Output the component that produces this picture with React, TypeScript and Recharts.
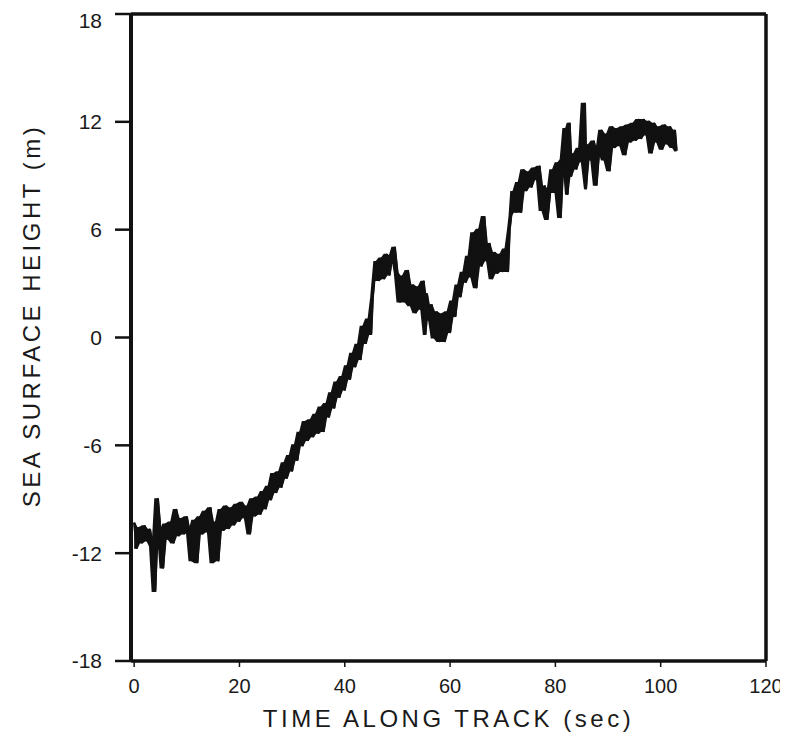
import { ComposedChart, Area, Line, XAxis, YAxis, ReferenceLine } from 'recharts';

// time along track (sec) and sea surface height (m)
const times = [
  0, 0.5, 1, 1.5, 2, 2.5, 3, 3.5, 4, 4.5, 5, 5.5, 6, 6.5, 7, 7.5, 8, 8.5, 9, 9.5,
  10, 10.5, 11, 11.5, 12, 12.5, 13, 13.5, 14, 14.5, 15, 15.5, 16, 16.5, 17, 17.5, 18, 18.5, 19, 19.5,
  20, 20.5, 21, 21.5, 22, 22.5, 23, 23.5, 24, 24.5, 25, 25.5, 26, 26.5, 27, 27.5, 28, 28.5, 29, 29.5,
  30, 30.5, 31, 31.5, 32, 32.5, 33, 33.5, 34, 34.5, 35, 35.5, 36, 36.5, 37, 37.5, 38, 38.5, 39, 39.5,
  40, 40.5, 41, 41.5, 42, 42.5, 43, 43.5, 44, 44.5, 45, 45.3, 45.6, 46, 46.5, 47, 47.5, 48, 48.5, 49, 49.5,
  50, 50.5, 51, 51.5, 52, 52.5, 53, 53.5, 54, 54.5, 55, 55.3, 55.6, 56, 56.5, 57, 57.5, 58, 58.5, 59, 59.5,
  60, 60.5, 61, 61.5, 62, 62.5, 63, 63.5, 64, 64.5, 65, 65.5, 66, 66.5, 67, 67.5, 68, 68.5, 69, 69.5,
  70, 70.5, 71, 71.3, 71.6, 72, 72.5, 73, 73.5, 74, 74.5, 75, 75.5, 76, 76.5, 77, 77.5, 78, 78.5, 79, 79.5,
  80, 80.5, 81, 81.5, 82, 82.3, 82.7, 83, 83.5, 84, 84.5, 85, 85.6, 85.8, 86.3, 86.8, 87.3, 87.8, 88.3, 88.8,
  89.3, 89.8, 90.3, 90.8, 91.3, 91.8, 92.3, 92.8, 93.3, 93.8, 94.3, 94.8, 95.3, 95.8, 96.3, 96.8, 97.3, 97.8,
  98.3, 98.8, 99.3, 99.8, 100.3, 100.8, 101.3, 101.8, 102.3, 102.7, 103,
];

const heights = [
  -10.3, -11.7, -10.6, -11.4, -10.5, -11.3, -10.7, -11.6, -14.1, -9.0, -10.8, -12.8, -10.4, -11.2, -10.3, -11.4, -9.6, -11.0, -10.1, -10.9,
  -10.0, -10.8, -12.4, -10.2, -12.5, -10.0, -10.9, -9.7, -10.8, -9.5, -12.5, -10.3, -12.4, -9.6, -10.7, -9.4, -10.6, -9.5, -10.4, -9.3,
  -10.2, -9.2, -10.0, -9.4, -10.9, -9.0, -9.9, -8.9, -9.8, -8.6, -9.5, -8.3, -9.0, -7.6, -8.6, -7.5, -8.3, -7.0, -7.8, -6.6,
  -7.4, -6.0, -6.8, -5.3, -6.0, -4.7, -5.7, -4.6, -5.5, -4.3, -5.3, -3.9, -5.2, -3.7, -4.4, -3.1, -3.9, -2.5, -3.3, -2.2,
  -2.9, -1.6, -2.3, -0.9, -1.6, -0.4, -1.2, 0.6, -0.3, 1.0, 0.2, 2.2, 3.2, 4.2, 3.2, 4.4, 3.3, 4.6, 3.5, 4.5, 5.0,
  3.6, 2.0, 3.4, 2.0, 3.7, 1.8, 2.9, 1.4, 2.8, 1.6, 3.1, 0.2, 2.4, 1.0, 1.8, 0.0, 1.4, -0.2, 1.3, -0.2, 1.4,
  0.3, 2.0, 1.2, 2.9, 2.3, 3.6, 3.1, 4.5, 3.4, 5.8, 2.8, 6.0, 4.0, 6.7, 4.3, 5.2, 3.3, 4.7, 3.6, 4.6,
  3.7, 4.9, 3.7, 6.0, 6.8, 8.1, 7.0, 8.6, 7.0, 9.3, 8.2, 9.2, 8.4, 9.4, 8.8, 9.5, 7.1, 8.4, 6.6, 8.1, 9.3,
  8.1, 9.7, 6.7, 9.9, 11.6, 8.0, 11.9, 9.0, 10.2, 9.4, 10.5, 9.8, 13.0, 8.3, 10.7, 9.9, 10.9, 8.5, 10.4, 11.5,
  9.9, 11.3, 9.3, 11.7, 10.6, 11.6, 10.7, 11.7, 10.2, 11.8, 10.9, 11.9, 11.0, 12.1, 11.1, 12.1, 11.3, 12.0,
  10.3, 11.9, 10.9, 11.7, 10.5, 11.8, 10.8, 11.7, 10.6, 11.5, 10.4,
];

const xTicks = [0, 20, 40, 60, 80, 100, 120];
const yTicks = [-18, -12, -6, 0, 6, 12, 18];

// band between each reading and the next one, so the noisy trace reads as a solid smear
const data = times.map((t, i) => {
  const next = heights[Math.min(i + 1, heights.length - 1)];
  return { t, h: heights[i], band: [Math.min(heights[i], next), Math.max(heights[i], next)] };
});

const font = '"Liberation Sans", Arial, sans-serif';
const ink = '#111';

export default function App() {
  return (
    <div style={{ width: 780, height: 730, fontFamily: font }}>
      <ComposedChart width={780} height={730} data={data} margin={{ top: 6, right: 22, left: 0, bottom: 0 }}>
        <XAxis
          dataKey="t"
          type="number"
          domain={[-0.6, 120]}
          ticks={xTicks}
          allowDataOverflow
          height={77}
          tickSize={6}
          tickMargin={12}
          axisLine={{ stroke: ink, strokeWidth: 3.5 }}
          tickLine={{ stroke: ink, strokeWidth: 1.5 }}
          tick={{ fill: '#1a1a1a', fontSize: 20, fontFamily: font }}
          label={{
            content: ({ viewBox }: any) => (
              <text
                x={viewBox.x + viewBox.width / 2}
                y={viewBox.y + 66}
                textAnchor="middle"
                fontSize={24}
                letterSpacing={3.5}
                fill="#1a1a1a"
                fontFamily={font}
              >
                TIME ALONG TRACK (sec)
              </text>
            ),
          }}
        />
        <YAxis
          type="number"
          domain={[-18, 18]}
          ticks={yTicks}
          width={123}
          tickSize={16}
          tickMargin={13}
          axisLine={{ stroke: ink, strokeWidth: 4 }}
          tickLine={{ stroke: ink, strokeWidth: 2.5 }}
          tick={{ fill: '#1a1a1a', fontSize: 21, fontFamily: font }}
          label={{
            content: ({ viewBox }: any) => {
              const cx = viewBox.x + 23;
              const cy = viewBox.y + viewBox.height / 2 - 22;
              return (
                <text
                  x={cx}
                  y={cy}
                  transform={`rotate(-90 ${cx} ${cy})`}
                  textAnchor="middle"
                  dominantBaseline="central"
                  fontSize={24}
                  letterSpacing={3.5}
                  fill="#1a1a1a"
                  fontFamily={font}
                >
                  SEA SURFACE HEIGHT (m)
                </text>
              );
            },
          }}
        />
        <ReferenceLine y={18} stroke={ink} strokeWidth={3.5} />
        <ReferenceLine x={120} stroke={ink} strokeWidth={3.5} />
        <Area
          dataKey="band"
          type="linear"
          fill={ink}
          fillOpacity={1}
          stroke={ink}
          strokeWidth={2}
          isAnimationActive={false}
        />
        <Line
          dataKey="h"
          type="linear"
          dot={false}
          stroke={ink}
          strokeWidth={2.4}
          strokeLinejoin="round"
          isAnimationActive={false}
        />
      </ComposedChart>
    </div>
  );
}
